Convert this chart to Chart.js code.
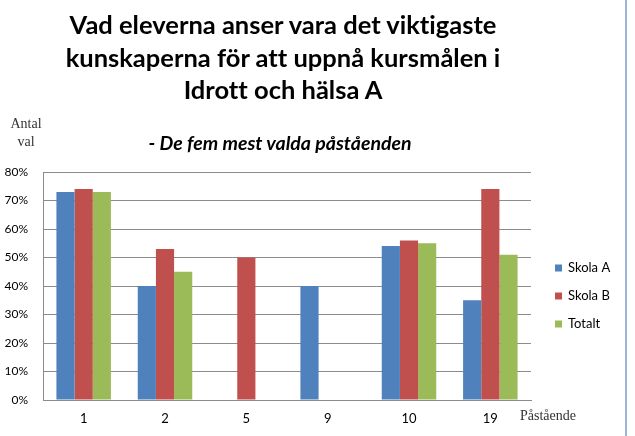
<!DOCTYPE html>
<html>
<head>
<meta charset="utf-8">
<script src="https://cdn.jsdelivr.net/npm/chart.js@4"></script>
<style>
  html, body { margin: 0; padding: 0; background: #fff; }
  #wrap { position: relative; width: 635px; height: 436px; overflow: hidden; }
  #c { position: absolute; left: 0; top: 0; }
  .t { position: absolute; font-family: Lato, "Open Sans", sans-serif; font-weight: bold; color: #000; text-align: center; white-space: nowrap; font-variant-ligatures: none; font-feature-settings: "liga" 0, "clig" 0; }
  .s { position: absolute; font-family: "Liberation Serif", serif; color: #333; white-space: nowrap; }
  #edge { position: absolute; left: 625px; top: 0; width: 2px; height: 436px; background: #9ab5d8; }
</style>
</head>
<body>
<div id="wrap">
  <canvas id="c" width="635" height="436"></canvas>
  <div class="t" style="left:0;width:566px;top:8px;font-size:25.5px;line-height:32.5px;">Vad eleverna anser vara det viktigaste<br>kunskaperna för att uppnå kursmålen i<br>Idrott och hälsa A</div>
  <div class="t" style="left:0;width:560px;top:131px;font-size:19.5px;font-style:italic;">- De fem mest valda påståenden</div>
  <div class="s" style="left:4px;width:44px;top:115px;font-size:14px;line-height:18px;text-align:center;">Antal<br>val</div>
  <div class="s" style="left:520px;top:408px;font-size:14px;">Påstående</div>
  <div id="edge"></div>
</div>
<script>
const categories = ["1", "2", "5", "9", "10", "19"];
const seriesNames = ["Skola A", "Skola B", "Totalt"];
const skolaA = [73, 40, 0, 40, 54, 35];
const skolaB = [74, 53, 50, 0, 56, 74];
const totalt = [73, 45, 0, 0, 55, 51];
const yTicks = [0, 10, 20, 30, 40, 50, 60, 70, 80];
const colors = ["#4F81BD", "#C0504D", "#9BBB59"];

const legendPlugin = {
  id: 'customLegend',
  afterDraw(chart) {
    const ctx = chart.ctx;
    ctx.save();
    ctx.font = '13px Lato, "Open Sans", sans-serif';
    ctx.textBaseline = 'middle';
    ctx.textAlign = 'left';
    chart.data.datasets.forEach((ds, i) => {
      const y = 268 + i * 28;
      ctx.fillStyle = ds.backgroundColor;
      ctx.fillRect(555, y - 3.5, 7, 7);
      ctx.fillStyle = '#000';
      ctx.fillText(ds.label, 568, y);
    });
    ctx.restore();
  }
};

new Chart(document.getElementById('c'), {
  type: 'bar',
  data: {
    labels: categories,
    datasets: [
      { label: seriesNames[0], data: skolaA, backgroundColor: colors[0] },
      { label: seriesNames[1], data: skolaB, backgroundColor: colors[1] },
      { label: seriesNames[2], data: totalt, backgroundColor: colors[2] }
    ]
  },
  options: {
    responsive: false,
    animation: false,
    events: [],
    layout: { padding: { left: 0, top: 172, right: 104, bottom: 0 } },
    datasets: { bar: { categoryPercentage: 0.67, barPercentage: 1.0, borderWidth: 0 } },
    plugins: { legend: { display: false }, title: { display: false }, tooltip: { enabled: false } },
    scales: {
      x: {
        afterFit(s) { s.height = 36; },
        grid: { display: false, drawTicks: false },
        border: { display: true, color: '#8c8c8c', width: 1 },
        ticks: { padding: 11, color: '#000', font: { family: 'Lato, "Open Sans", sans-serif', size: 13 } }
      },
      y: {
        min: 0, max: 80,
        afterFit(s) { s.width = 43; },
        afterBuildTicks(s) { s.ticks = yTicks.map(v => ({ value: v })); },
        grid: { color: '#8c8c8c', lineWidth: 1, drawTicks: false },
        border: { display: true, color: '#8c8c8c', width: 1 },
        ticks: { padding: 15, color: '#000', font: { family: 'Lato, "Open Sans", sans-serif', size: 12 }, callback: v => v + '%' }
      }
    }
  },
  plugins: [legendPlugin]
});
</script>
</body>
</html>
